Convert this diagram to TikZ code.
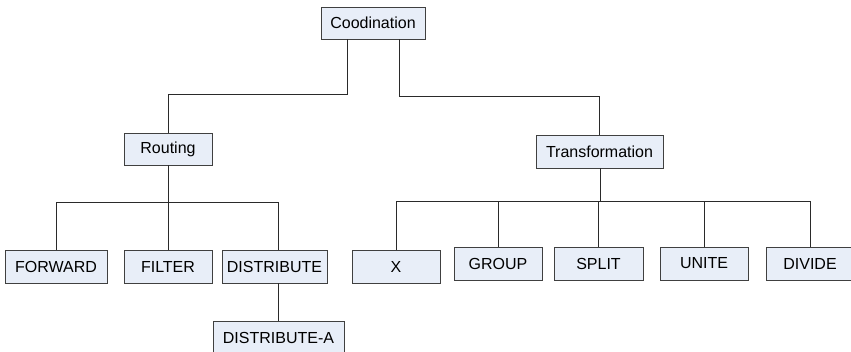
\documentclass[tikz,border=0pt]{standalone}
\usepackage{fontspec}
\setmainfont{Liberation Sans}
\definecolor{boxfill}{HTML}{E8EEF8}
\definecolor{boxline}{HTML}{404040}
\definecolor{wire}{HTML}{2A2A2A}
\begin{document}
\begin{tikzpicture}[x=1pt,y=-1pt,
  box/.style={draw=boxline, fill=boxfill, line width=0.9pt, inner sep=0pt,
    minimum height=33pt, font=\fontsize{16}{18}\selectfont, text=black},
  wires/.style={draw=wire, line width=0.9pt}]
\useasboundingbox (0,0) rectangle (851,351);
\clip (0,0) rectangle (851,351);
\fill[white] (0,0) rectangle (851,351);

% top level
\node[box, minimum width=104pt, minimum height=32pt] (coord) at (373,23) {Coodination};

% second level
\node[box, minimum width=88pt, minimum height=32pt] (routing) at (168,149) {Routing};
\node[box, minimum width=127pt] (trans) at (599.5,151.5) {Transformation};

% routing children
\node[box, minimum width=102pt] (forward) at (56,266.5) {FORWARD};
\node[box, minimum width=88pt] (filter) at (168,266.5) {FILTER};
\node[box, minimum width=105pt] (distribute) at (274.5,266.5) {DISTRIBUTE};
\node[box, minimum width=131pt, minimum height=34pt] (dista) at (278.5,338) {DISTRIBUTE-A};

% transformation children
\node[box, minimum width=88pt] (x) at (396,266.5) {X};
\node[box, minimum width=88pt] (group) at (498,263.5) {GROUP};
\node[box, minimum width=89pt] (split) at (598.5,263.5) {SPLIT};
\node[box, minimum width=88pt] (unite) at (704,263.5) {UNITE};
\node[box, minimum width=88pt] (divide) at (810,263.5) {DIVIDE};

% bends and buses
\coordinate (cl) at (347,94);
\coordinate (cr) at (399,96);
\coordinate (rbus) at (168,202);
\coordinate (tbus) at (600,201);

% coordination to second level
\draw[wires] (coord.south -| cl) -- (cl) -| (routing.north);
\draw[wires] (coord.south -| cr) -- (cr) -| (trans.north);

% routing tree
\draw[wires] (routing.south) -- (rbus);
\draw[wires] (rbus) -| (forward.north);
\draw[wires] (rbus) -- (filter.north);
\draw[wires] (rbus) -| (distribute.north -| dista.north);
\draw[wires] (distribute.south -| dista.north) -- (dista.north);

% transformation tree
\draw[wires] (trans.south -| tbus) -- (tbus);
\draw[wires] (tbus) -| (x.north);
\draw[wires] (tbus) -| (group.north);
\draw[wires] (tbus) -| (split.north);
\draw[wires] (tbus) -| (unite.north);
\draw[wires] (tbus) -| (divide.north);
\end{tikzpicture}
\end{document}
